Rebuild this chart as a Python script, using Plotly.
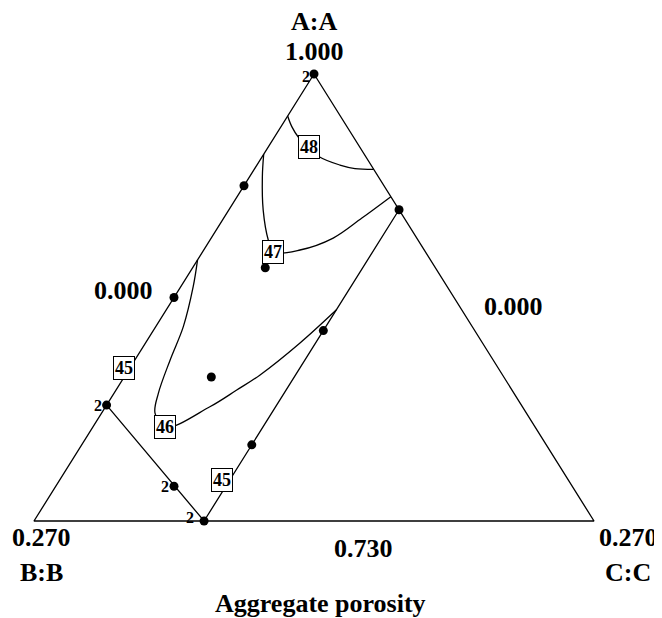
import numpy as np
import plotly.graph_objects as go

# ---- mixture space (real units) ----
A_MIN, SPAN = 0.73, 0.27          # A: 0.73..1.00, B,C: 0..0.27

# simplex vertices (A, C); B = 1 - A - C
vert_A = [1.000, 0.730, 0.730, 1.000]
vert_C = [0.000, 0.000, 0.270, 0.000]

# constraint boundary (A, C)
cons_A = [0.800, 0.730, 0.918]
cons_C = [0.000, 0.082, 0.082]

# design points (A, C)
pt_A = [1.000, 0.9325, 0.865, 0.800, 0.751, 0.730, 0.776, 0.845, 0.918, 0.817, 0.883]
pt_C = [0.000, 0.000, 0.000, 0.000, 0.057, 0.082, 0.082, 0.082, 0.082, 0.042, 0.035]
pt_rep = [2, 1, 1, 2, 2, 2, 1, 1, 1, 1, 1]

# contour lines of aggregate porosity (A, C)
c48_A = [0.9746, 0.9682, 0.9618, 0.9559, 0.9500, 0.9450, 0.9429, 0.9424]
c48_C = [0.0000, 0.0052, 0.0116, 0.0197, 0.0275, 0.0400, 0.0483, 0.0576]
c47_A = [0.9515, 0.9380, 0.9178, 0.8997, 0.8925, 0.8937, 0.9009, 0.9130, 0.9259]
c47_C = [0.0000, 0.0061, 0.0166, 0.0281, 0.0340, 0.0464, 0.0588, 0.0666, 0.0741]
c46_A = [0.8877, 0.8715, 0.8474, 0.8273, 0.8071, 0.7951, 0.7865, 0.7990, 0.8091, 0.8182, 0.8375, 0.8574]
c46_C = [0.0000, 0.0060, 0.0133, 0.0170, 0.0214, 0.0258, 0.0349, 0.0503, 0.0582, 0.0649, 0.0745, 0.0820]

# contour label positions (A, C, text)
lab_A = [0.9559, 0.8925, 0.7865, 0.8226, 0.7548]
lab_C = [0.0197, 0.0340, 0.0349, 0.0000, 0.0800]
lab_T = ["48", "47", "46", "45", "45"]
lab_dx = [0, 0, 0, -6, -4]


def proj(A, C):
    A = np.asarray(A, float)
    C = np.asarray(C, float)
    a = (A - A_MIN) / SPAN
    c = C / SPAN
    return c + a / 2.0, a


FONT = "Liberation Serif"
fig = go.Figure()

line_style = dict(color="black", width=1.3)
for As, Cs in [(vert_A, vert_C), (cons_A, cons_C), (c48_A, c48_C), (c47_A, c47_C), (c46_A, c46_C)]:
    x, y = proj(As, Cs)
    fig.add_trace(go.Scatter(x=x, y=y, mode="lines", line=line_style,
                             line_shape="spline" if len(As) > 4 else "linear",
                             hoverinfo="skip", showlegend=False, cliponaxis=False))

px_, py_ = proj(pt_A, pt_C)
fig.add_trace(go.Scatter(x=px_, y=py_, mode="markers",
                         marker=dict(color="black", size=9),
                         showlegend=False, cliponaxis=False))

ann = []
for i, (x, y, r) in enumerate(zip(px_, py_, pt_rep)):
    if r > 1:
        dx, dy = (-3, -2) if i == 0 else ((-9, 4) if i == 5 else (-4, 0))
        ann.append(dict(x=x, y=y, text="<b>%d</b>" % r, showarrow=False,
                        xanchor="right", xshift=dx, yshift=dy, borderpad=0,
                        font=dict(family=FONT, size=16, color="black")))

lx, ly = proj(lab_A, lab_C)
for x, y, t, dx in zip(lx, ly, lab_T, lab_dx):
    ann.append(dict(x=x, y=y, text="<b>%s</b>" % t, showarrow=False, xshift=dx,
                    bgcolor="white", bordercolor="black", borderwidth=1, borderpad=1,
                    font=dict(family=FONT, size=18, color="black")))

# axis / vertex labels
vx, vy = proj(vert_A[:3], vert_C[:3])
txt = dict(showarrow=False, borderpad=0, font=dict(family=FONT, size=26, color="black"))
ann += [
    dict(x=vx[0], y=vy[0], text="<b>A:A</b>", yshift=53, **txt),
    dict(x=vx[0], y=vy[0], text="<b>1.000</b>", yshift=23, **txt),
    dict(x=vx[1], y=vy[1], text="<b>0.270</b>", xshift=7, yshift=-16, **txt),
    dict(x=vx[1], y=vy[1], text="<b>B:B</b>", xshift=7, yshift=-51, **txt),
    dict(x=vx[2], y=vy[2], text="<b>0.270</b>", xshift=34, yshift=-16, **txt),
    dict(x=vx[2], y=vy[2], text="<b>C:C</b>", xshift=34, yshift=-51, **txt),
    dict(x=(vx[1] + vx[2]) / 2, y=vy[1], text="<b>0.730</b>", xshift=49, yshift=-27, **txt),
    dict(x=(vx[0] + vx[1]) / 2, y=(vy[0] + vy[1]) / 2, text="<b>0.000</b>", xshift=-51, yshift=7, **txt),
    dict(x=(vx[0] + vx[2]) / 2, y=(vy[0] + vy[2]) / 2, text="<b>0.000</b>", xshift=59, yshift=-9, **txt),
    dict(x=(vx[1] + vx[2]) / 2, y=vy[1], text="<b>Aggregate porosity</b>", xshift=6, yshift=-82, **txt),
]

# page has an 8px body margin: figure is 654x610 placed at (8, 8)
fig.update_layout(
    width=654, height=610,
    margin=dict(l=0, r=0, t=0, b=0),
    paper_bgcolor="white", plot_bgcolor="white",
    xaxis=dict(range=[-26 / 560, 628 / 560], visible=False, fixedrange=True),
    yaxis=dict(range=[-97 / 447, 513 / 447], visible=False, fixedrange=True),
    annotations=ann,
    showlegend=False,
)

fig.write_html("out.html")
